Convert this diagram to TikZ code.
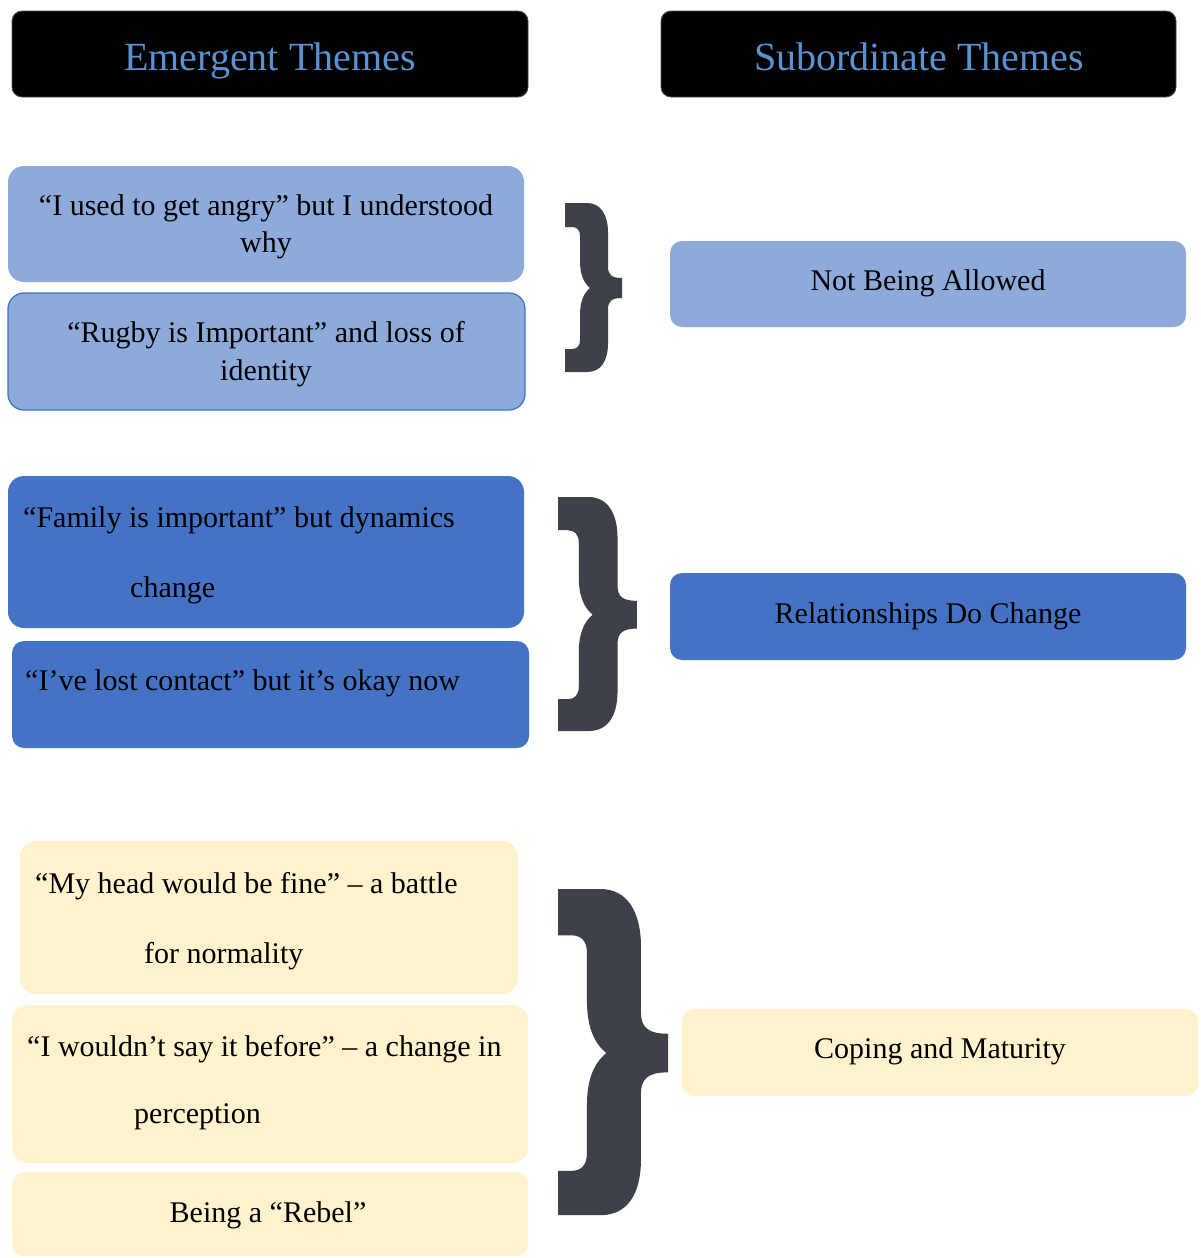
\documentclass[tikz,border=0pt]{standalone}
\usepackage{fontspec}
\setmainfont{Liberation Serif}
\definecolor{lblue}{RGB}{142,170,219}
\definecolor{mblue}{RGB}{68,114,196}
\definecolor{lyell}{RGB}{255,242,204}
\definecolor{bracec}{RGB}{63,65,72}
\definecolor{hdrtxt}{RGB}{88,146,208}
\begin{document}
\begin{tikzpicture}[x=1pt,y=-1pt,
  box/.style={rectangle, rounded corners=16pt, inner sep=0pt},
  rbox/.style={rectangle, rounded corners=12pt, inner sep=0pt},
  hdr/.style={rectangle, rounded corners=10pt, fill=black, draw=black!70, line width=0.8pt, inner sep=0pt, minimum height=86pt},
  txt/.style={inner sep=0pt, anchor=base, font=\fontsize{30}{36}\selectfont},
  ltxt/.style={inner sep=0pt, anchor=base west, font=\fontsize{30}{36}\selectfont},
  htxt/.style={inner sep=0pt, anchor=base, text=hdrtxt, font=\fontsize{40}{48}\selectfont},
  bracefill/.style={fill=bracec, draw=none}]
\useasboundingbox (0,0) rectangle (1200,1258);

% headers
\node[hdr, minimum width=516pt] (h1) at (270,54) {};
\node[htxt] (h1t) at (270,70) {Emergent Themes};
\node[hdr, minimum width=515pt] (h2) at (918.5,54) {};
\node[htxt] (h2t) at (919,70) {Subordinate Themes};

% group 1
\node[box, fill=lblue, minimum width=516pt, minimum height=116pt] (a1) at (266,224) {};
\node[txt] (a1t1) at (266,215) {“I used to get angry” but I understood};
\node[txt] (a1t2) at (266,252) {why};
\node[box, fill=lblue, draw=mblue, line width=1.3pt, minimum width=517pt, minimum height=117pt] (a2) at (266.5,351.5) {};
\node[txt] (a2t1) at (266,342) {“Rugby is Important” and loss of};
\node[txt] (a2t2) at (266,380) {identity};
\node[rbox, fill=lblue, minimum width=516pt, minimum height=86pt] (r1) at (928,284) {};
\node[txt] (r1t) at (928,290) {Not Being Allowed};

% group 2
\node[box, fill=mblue, minimum width=516pt, minimum height=152pt] (b1) at (266,552) {};
\node[ltxt] (b1t1) at (23,527) {“Family is important” but dynamics};
\node[ltxt] (b1t2) at (130,597) {change};
\node[box, fill=mblue, rounded corners=12pt, minimum width=517pt, minimum height=107pt] (b2) at (270.5,694.5) {};
\node[ltxt] (b2t) at (25,690) {“I’ve lost contact” but it’s okay now};
\node[rbox, fill=mblue, minimum width=516pt, minimum height=87pt] (r2) at (928,616.5) {};
\node[txt] (r2t) at (928,623) {Relationships Do Change};

% group 3
\node[box, fill=lyell, minimum width=498pt, minimum height=153pt] (c1) at (269,917.5) {};
\node[ltxt] (c1t1) at (35,893) {“My head would be fine” – a battle};
\node[ltxt] (c1t2) at (144,963) {for normality};
\node[box, fill=lyell, minimum width=516pt, minimum height=158pt] (c2) at (270,1084) {};
\node[ltxt] (c2t1) at (27,1056) {“I wouldn’t say it before” – a change in};
\node[ltxt] (c2t2) at (134,1123) {perception};
\node[box, fill=lyell, rounded corners=12pt, minimum width=516pt, minimum height=84pt] (c3) at (270,1214) {};
\node[txt] (c3t) at (268,1222) {Being a “Rebel”};
\node[rbox, fill=lyell, minimum width=516pt, minimum height=87pt] (r3) at (940,1052.5) {};
\node[txt] (r3t) at (940,1058) {Coping and Maturity};

% braces
\tikzset{bracepath/.pic={
  \path[bracefill] (0,0) -- (22,0) .. controls (36,0) and (43,12) .. (43,30) -- (43,64)
    .. controls (43,72) and (47,75) .. (57,75) -- (57,95)
    .. controls (47,95) and (43,98) .. (43,106) -- (43,140)
    .. controls (43,158) and (36,169) .. (22,169) -- (0,169) -- (0,146) -- (7,146)
    .. controls (12,146) and (15,143) .. (15,137) -- (15,112)
    .. controls (15,98) and (19,90) .. (25,85)
    .. controls (19,80) and (15,72) .. (15,58) -- (15,33)
    .. controls (15,27) and (12,24) .. (7,24) -- (0,24) -- cycle;
}}
\pic[scale=1] at (565,203) {bracepath};
\pic[scale=1.385] at (558,497) {bracepath};
\pic[scale=1.93] at (558,889) {bracepath};
\end{tikzpicture}
\end{document}
